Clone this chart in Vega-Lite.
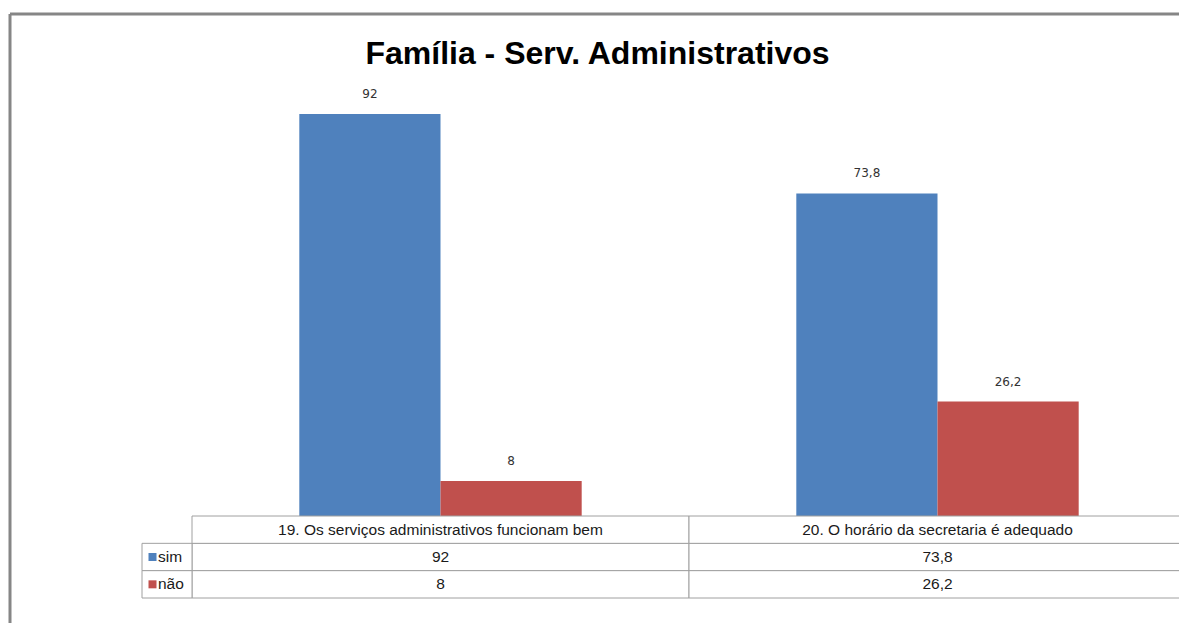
{
  "$schema": "https://vega.github.io/schema/vega-lite/v6.json",
  "width": 1169,
  "height": 609,
  "autosize": "none",
  "padding": {"left": 10, "top": 14, "right": 0, "bottom": 0},
  "background": "#ffffff",
  "title": {
    "text": "Família - Serv. Administrativos",
    "font": "Liberation Sans",
    "fontSize": 32,
    "fontWeight": "bold",
    "color": "#000000",
    "anchor": "middle",
    "frame": "group",
    "offset": 0,
    "dy": 57,
    "dx": 3
  },
  "config": {
    "locale": {"number": {"decimal": ",", "thousands": ".", "grouping": [3], "currency": ["", ""]}},
    "view": {"stroke": "#868686", "strokeWidth": 3, "strokeDash": [1169, 1778, 609, 0]},
    "axis": {"disable": true}
  },
  "data": {
    "values": [
      {"pergunta": "19. Os serviços administrativos funcionam bem", "resposta": "sim", "valor": 92},
      {"pergunta": "19. Os serviços administrativos funcionam bem", "resposta": "não", "valor": 8},
      {"pergunta": "20. O horário da secretaria é adequado", "resposta": "sim", "valor": 73.8},
      {"pergunta": "20. O horário da secretaria é adequado", "resposta": "não", "valor": 26.2}
    ]
  },
  "resolve": {"scale": {"x": "independent", "y": "independent", "color": "independent"}},
  "layer": [
    {
      "encoding": {
        "x": {"field": "pergunta", "type": "nominal", "sort": null, "axis": null,
              "scale": {"paddingInner": 0, "paddingOuter": 0, "range": [182, 1176]}},
        "xOffset": {"field": "resposta", "type": "nominal", "sort": ["sim", "não"],
                    "scale": {"domain": ["sim", "não"], "paddingInner": 0, "paddingOuter": 0.76}},
        "y": {"field": "valor", "type": "quantitative", "axis": null,
              "scale": {"domain": [0, 100], "range": [502, 65], "nice": false, "zero": false}}
      },
      "layer": [
        {
          "mark": {"type": "bar"},
          "encoding": {
            "color": {"field": "resposta", "type": "nominal", "legend": null,
                      "scale": {"domain": ["sim", "não"], "range": ["#4F81BD", "#C0504D"]}}
          }
        },
        {
          "mark": {"type": "text", "font": "DejaVu Sans", "fontSize": 12, "color": "#333333",
                   "baseline": "alphabetic", "dy": -16},
          "encoding": {"text": {"field": "valor", "type": "quantitative"}}
        }
      ]
    },
    {
      "encoding": {
        "x": {"field": "pergunta", "type": "nominal", "sort": null, "axis": null,
              "scale": {"paddingInner": 0, "paddingOuter": 0, "range": [182, 1176]}}
      },
      "layer": [
        {
          "mark": {"type": "rect", "fill": "#ffffff", "stroke": "#a0a0a0", "strokeWidth": 1},
          "encoding": {
            "y": {"field": "resposta", "type": "nominal", "axis": null,
                  "scale": {"domain": ["header", "sim", "não"], "paddingInner": 0, "paddingOuter": 0, "range": [502, 584]}}
          }
        },
        {
          "mark": {"type": "text", "font": "Liberation Sans", "fontSize": 15.5, "color": "#1a1a1a", "baseline": "middle"},
          "encoding": {
            "y": {"field": "resposta", "type": "nominal", "axis": null,
                  "scale": {"domain": ["header", "sim", "não"], "paddingInner": 0, "paddingOuter": 0, "range": [502, 584]}},
            "text": {"field": "valor", "type": "quantitative"}
          }
        },
        {
          "transform": [{"filter": "datum.resposta === 'sim'"}],
          "mark": {"type": "rect", "fill": "#ffffff", "stroke": "#a0a0a0", "strokeWidth": 1},
          "encoding": {
            "y": {"datum": "header", "type": "nominal", "axis": null,
                  "scale": {"domain": ["header", "sim", "não"], "paddingInner": 0, "paddingOuter": 0, "range": [502, 584]}}
          }
        },
        {
          "transform": [{"filter": "datum.resposta === 'sim'"}],
          "mark": {"type": "text", "font": "Liberation Sans", "fontSize": 15.5, "color": "#1a1a1a", "baseline": "middle"},
          "encoding": {
            "y": {"datum": "header", "type": "nominal", "axis": null,
                  "scale": {"domain": ["header", "sim", "não"], "paddingInner": 0, "paddingOuter": 0, "range": [502, 584]}},
            "text": {"field": "pergunta", "type": "nominal"}
          }
        }
      ]
    },
    {
      "transform": [{"filter": "datum.pergunta === '19. Os serviços administrativos funcionam bem'"}],
      "encoding": {
        "y": {"field": "resposta", "type": "nominal", "axis": null,
              "scale": {"domain": ["header", "sim", "não"], "paddingInner": 0, "paddingOuter": 0, "range": [502, 584]}}
      },
      "layer": [
        {
          "mark": {"type": "rect", "fill": "#ffffff", "stroke": "#a0a0a0", "strokeWidth": 1},
          "encoding": {
            "x": {"datum": "legenda", "type": "nominal", "axis": null,
                  "scale": {"domain": ["legenda"], "paddingInner": 0, "paddingOuter": 0, "range": [132, 182]}}
          }
        },
        {
          "mark": {"type": "square", "size": 64, "opacity": 1},
          "encoding": {
            "x": {"datum": "legenda", "type": "nominal", "axis": null, "bandPosition": 0.21,
                  "scale": {"domain": ["legenda"], "paddingInner": 0, "paddingOuter": 0, "range": [132, 182]}},
            "color": {"field": "resposta", "type": "nominal", "legend": null,
                      "scale": {"domain": ["sim", "não"], "range": ["#4F81BD", "#C0504D"]}}
          }
        },
        {
          "mark": {"type": "text", "font": "Liberation Sans", "fontSize": 15.5, "color": "#1a1a1a", "baseline": "middle", "align": "left"},
          "encoding": {
            "x": {"datum": "legenda", "type": "nominal", "axis": null, "bandPosition": 0.32,
                  "scale": {"domain": ["legenda"], "paddingInner": 0, "paddingOuter": 0, "range": [132, 182]}},
            "text": {"field": "resposta", "type": "nominal"}
          }
        }
      ]
    }
  ]
}
